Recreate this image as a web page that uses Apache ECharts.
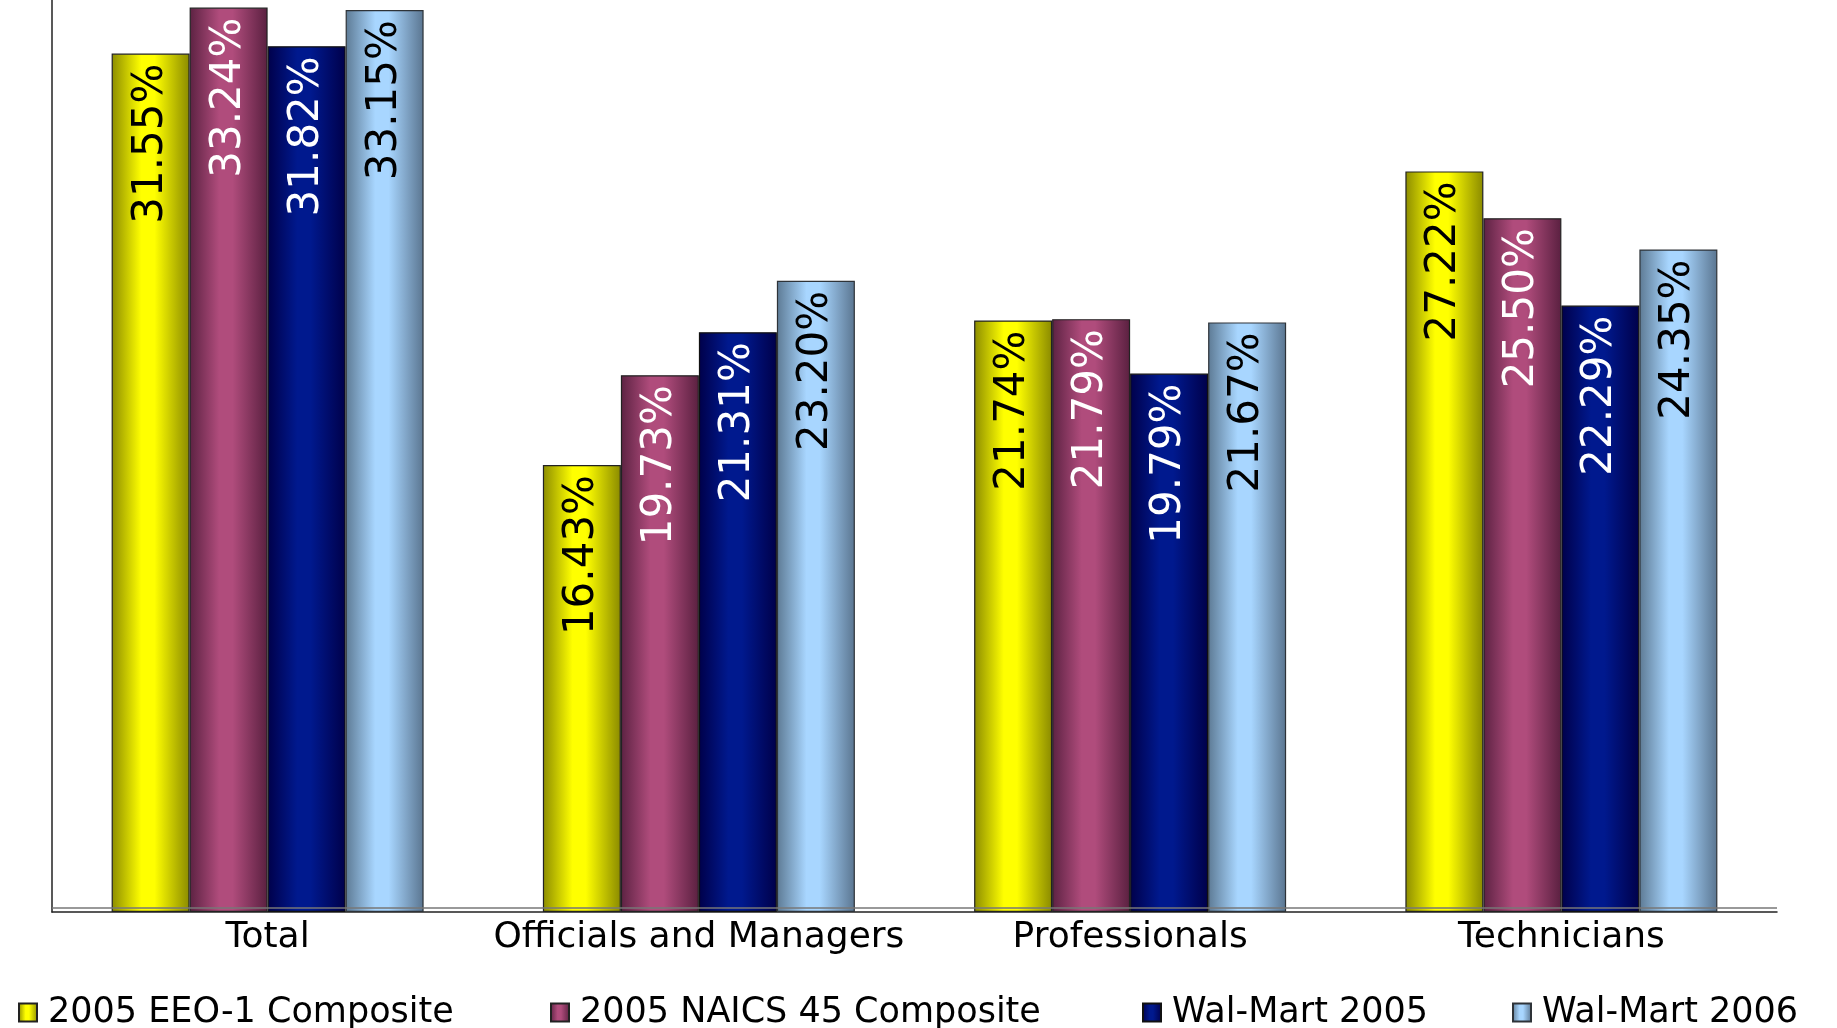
<!DOCTYPE html>
<html>
<head>
<meta charset="utf-8">
<title>Share by job category</title>
<script src="https://cdn.jsdelivr.net/npm/echarts@6/dist/echarts.min.js"></script>
<style>
  html, body { margin: 0; padding: 0; background: #fff; }
  #chart { width: 1837px; height: 1028px; }
</style>
</head>
<body>
<div id="chart"></div>
<script>
// categories and the four series (percent)
const categories = ["Total", "Officials and Managers", "Professionals", "Technicians"];
const seriesNames = ["2005 EEO-1 Composite", "2005 NAICS 45 Composite", "Wal-Mart 2005", "Wal-Mart 2006"];
const eeo1Composite = [31.55, 16.43, 21.74, 27.22];
const naics45Composite = [33.24, 19.73, 21.79, 25.50];
const walMart2005 = [31.82, 21.31, 19.79, 22.29];
const walMart2006 = [33.15, 23.20, 21.67, 24.35];

const FONT = "DejaVu Sans";

// cylinder-like horizontal gradient
function tube(edgeL, mid, edgeR) {
    return {
        type: "linear", x: 0, y: 0, x2: 1, y2: 0,
        colorStops: [
            { offset: 0, color: edgeL },
            { offset: 0.38, color: mid },
            { offset: 0.55, color: mid },
            { offset: 1, color: edgeR }
        ]
    };
}

const fills = [
    tube("#8c8c00", "#ffff00", "#8a8a00"),
    tube("#5c2242", "#b04c7c", "#5a2040"),
    tube("#00004a", "#00198e", "#00004a"),
    tube("#5d7a94", "#a8d6ff", "#5a7590")
];
const labelColors = ["#000", "#fff", "#fff", "#000"];
const borders = ["#222", "#222", "#111", "#2e3338"];
const values = [eeo1Composite, naics45Composite, walMart2005, walMart2006];

const series = values.map(function (data, i) {
    const s = {
        name: seriesNames[i],
        type: "bar",
        barWidth: 78,
        barGap: "0%",
        data: data,
        itemStyle: {
            color: fills[i],
            borderColor: borders[i],
            borderWidth: 1.2
        },
        label: {
            show: true,
            position: "insideTop",
            rotate: 90,
            align: "right",
            verticalAlign: "middle",
            distance: 10,
            fontFamily: FONT,
            fontSize: 42,
            color: labelColors[i],
            formatter: function (p) {
                return p.value.toFixed(2) + "%";
            }
        }
    };
    if (i === values.length - 1) {
        // the lighter floor line drawn over the bar feet
        s.markLine = {
            silent: true,
            symbol: "none",
            label: { show: false },
            lineStyle: { color: "#777", width: 1.5, type: "solid" },
            data: [{ yAxis: 0.16 }]
        };
    }
    return s;
});

const legendLeft = [13, 545, 1137, 1507];
const legends = seriesNames.map(function (name, i) {
    return {
        data: [name],
        left: legendLeft[i],
        top: 990,
        icon: "rect",
        itemWidth: 18,
        itemHeight: 18,
        selectedMode: false,
        textStyle: {
            fontFamily: FONT,
            fontSize: 35,
            color: "#000",
            padding: [0, 0, 0, 6]
        }
    };
});

const myChart = echarts.init(document.getElementById("chart"));
myChart.setOption({
    animation: false,
    legend: legends,
    grid: {
        left: 52,
        right: 60,
        top: 0,
        bottom: 116
    },
    xAxis: {
        type: "category",
        data: categories,
        axisTick: { show: false },
        axisLine: { lineStyle: { color: "#222", width: 1.5 } },
        axisLabel: {
            interval: 0,
            margin: 8,
            fontFamily: FONT,
            fontSize: 36,
            color: "#000"
        }
    },
    yAxis: {
        type: "value",
        min: 0,
        max: 33.52,
        axisLine: { show: true, lineStyle: { color: "#222", width: 1.5 } },
        axisTick: { show: false },
        axisLabel: { show: false },
        splitLine: { show: false }
    },
    series: series
});
</script>
</body>
</html>
